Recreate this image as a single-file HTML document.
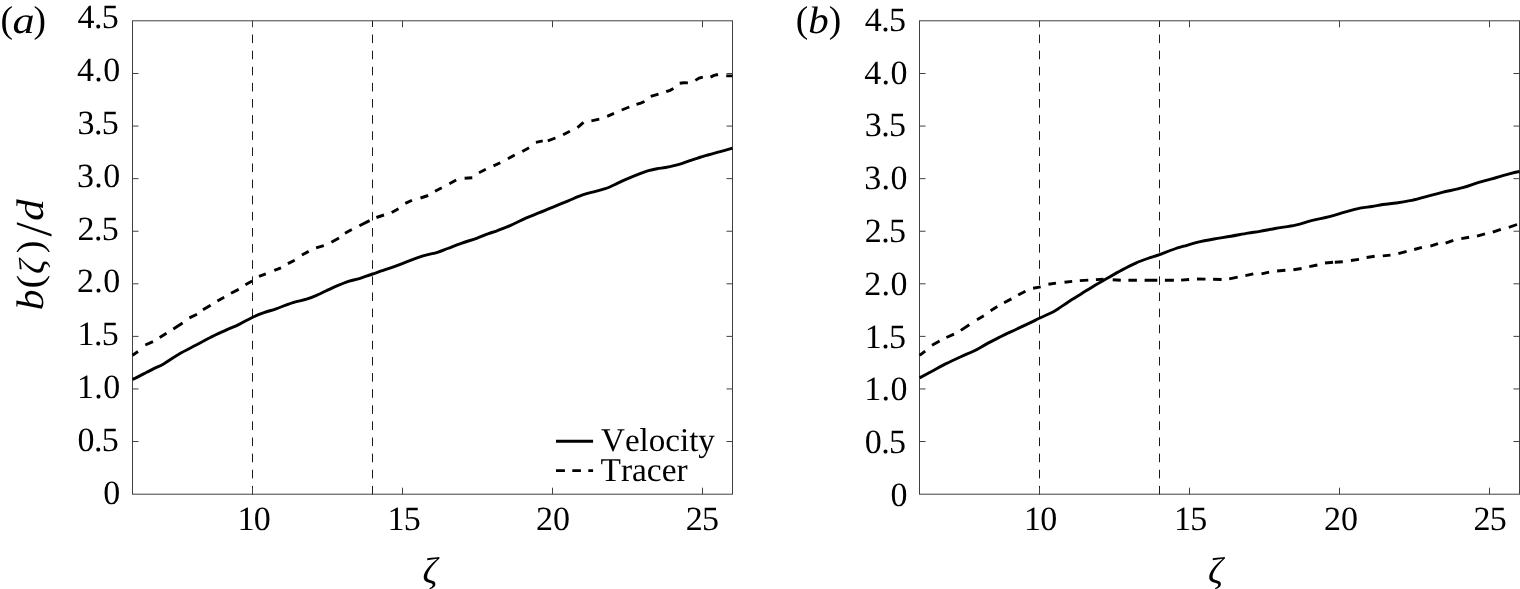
<!DOCTYPE html>
<html lang="en"><head><meta charset="utf-8"><title>Jet width: velocity and tracer</title>
<style>html,body{margin:0;padding:0;background:#fff;}body{width:1520px;height:589px;overflow:hidden;position:relative;}svg{display:block;position:absolute;left:0;top:0;}text{text-rendering:geometricPrecision;font-family:"Liberation Serif",serif;fill:#000;}.it{font-style:italic;}</style></head><body>
<svg width="1520" height="589" viewBox="0 0 1520 589">
<rect x="0" y="0" width="1520" height="589" fill="#fff"/>
<path d="M252.5 494.5 V20.80" stroke="#1a1a1a" stroke-width="1" stroke-dasharray="8.6 7.52" fill="none"/>
<path d="M372.5 494.5 V20.80" stroke="#1a1a1a" stroke-width="1" stroke-dasharray="8.6 7.52" fill="none"/>
<path d="M132.5 441.53 h6.0 M732.5 441.53 h-6.0 M132.5 388.95 h6.0 M732.5 388.95 h-6.0 M132.5 336.38 h6.0 M732.5 336.38 h-6.0 M132.5 283.80 h6.0 M732.5 283.80 h-6.0 M132.5 231.23 h6.0 M732.5 231.23 h-6.0 M132.5 178.65 h6.0 M732.5 178.65 h-6.0 M132.5 126.07 h6.0 M732.5 126.07 h-6.0 M132.5 73.50 h6.0 M732.5 73.50 h-6.0 M252.5 494.20 v-6.5 M252.5 20.80 v6.5 M402.5 494.20 v-6.5 M402.5 20.80 v6.5 M552.5 494.20 v-6.5 M552.5 20.80 v6.5 M702.5 494.20 v-6.5 M702.5 20.80 v6.5" stroke="#404040" stroke-width="1" fill="none"/>
<rect x="132.5" y="20.80" width="600.0" height="473.40" fill="none" stroke="#404040" stroke-width="1"/>
<text x="120.2" y="503.6" font-size="34" text-anchor="end">0</text>
<text x="118.2" y="450.8" font-size="34" text-anchor="end" letter-spacing="-0.6">0.5</text>
<text x="120.6" y="397.9" font-size="34" text-anchor="end" letter-spacing="0.4">1.0</text>
<text x="118.2" y="345.1" font-size="34" text-anchor="end" letter-spacing="-0.6">1.5</text>
<text x="120.6" y="292.4" font-size="34" text-anchor="end" letter-spacing="0.4">2.0</text>
<text x="118.2" y="239.5" font-size="34" text-anchor="end" letter-spacing="-0.6">2.5</text>
<text x="120.6" y="186.7" font-size="34" text-anchor="end" letter-spacing="0.4">3.0</text>
<text x="118.2" y="133.9" font-size="34" text-anchor="end" letter-spacing="-0.6">3.5</text>
<text x="120.6" y="81.2" font-size="34" text-anchor="end" letter-spacing="0.4">4.0</text>
<text x="118.2" y="28.4" font-size="34" text-anchor="end" letter-spacing="-0.6">4.5</text>
<text x="253.8" y="530" font-size="34" text-anchor="middle" letter-spacing="-0.7">10</text>
<text x="403.8" y="530" font-size="34" text-anchor="middle" letter-spacing="-0.7">15</text>
<text x="552.9" y="530" font-size="34" text-anchor="middle" letter-spacing="0">20</text>
<text x="702.1" y="530" font-size="34" text-anchor="middle" letter-spacing="-0.7">25</text>
<text x="430.1" y="583.2" font-size="37" text-anchor="middle" class="it">ζ</text>
<path d="M1039.5 494.5 V20.80" stroke="#1a1a1a" stroke-width="1" stroke-dasharray="8.6 7.52" fill="none"/>
<path d="M1159.5 494.5 V20.80" stroke="#1a1a1a" stroke-width="1" stroke-dasharray="8.6 7.52" fill="none"/>
<path d="M919.5 441.53 h6.0 M1519.5 441.53 h-6.0 M919.5 388.95 h6.0 M1519.5 388.95 h-6.0 M919.5 336.38 h6.0 M1519.5 336.38 h-6.0 M919.5 283.80 h6.0 M1519.5 283.80 h-6.0 M919.5 231.23 h6.0 M1519.5 231.23 h-6.0 M919.5 178.65 h6.0 M1519.5 178.65 h-6.0 M919.5 126.07 h6.0 M1519.5 126.07 h-6.0 M919.5 73.50 h6.0 M1519.5 73.50 h-6.0 M1039.5 494.20 v-6.5 M1039.5 20.80 v6.5 M1189.5 494.20 v-6.5 M1189.5 20.80 v6.5 M1339.5 494.20 v-6.5 M1339.5 20.80 v6.5 M1489.5 494.20 v-6.5 M1489.5 20.80 v6.5" stroke="#404040" stroke-width="1" fill="none"/>
<rect x="919.5" y="20.80" width="600.0" height="473.40" fill="none" stroke="#404040" stroke-width="1"/>
<text x="907.5" y="505.9" font-size="34" text-anchor="end">0</text>
<text x="905.5" y="453.1" font-size="34" text-anchor="end" letter-spacing="-0.6">0.5</text>
<text x="907.9" y="400.3" font-size="34" text-anchor="end" letter-spacing="0.4">1.0</text>
<text x="905.5" y="347.5" font-size="34" text-anchor="end" letter-spacing="-0.6">1.5</text>
<text x="907.9" y="294.7" font-size="34" text-anchor="end" letter-spacing="0.4">2.0</text>
<text x="905.5" y="241.9" font-size="34" text-anchor="end" letter-spacing="-0.6">2.5</text>
<text x="907.9" y="189.1" font-size="34" text-anchor="end" letter-spacing="0.4">3.0</text>
<text x="905.5" y="136.3" font-size="34" text-anchor="end" letter-spacing="-0.6">3.5</text>
<text x="907.9" y="83.5" font-size="34" text-anchor="end" letter-spacing="0.4">4.0</text>
<text x="905.5" y="30.7" font-size="34" text-anchor="end" letter-spacing="-0.6">4.5</text>
<text x="1040.3" y="530" font-size="34" text-anchor="middle" letter-spacing="-0.7">10</text>
<text x="1190.3" y="530" font-size="34" text-anchor="middle" letter-spacing="-0.7">15</text>
<text x="1341.1" y="530" font-size="34" text-anchor="middle" letter-spacing="0">20</text>
<text x="1489.8" y="530" font-size="34" text-anchor="middle" letter-spacing="-0.7">25</text>
<text x="1215.5" y="583.2" font-size="37" text-anchor="middle" class="it">ζ</text>
<text x="0.6" y="32.4" font-size="37.5">(</text>
<text transform="translate(12.4 33.3) scale(1.18 1)" font-size="37.5" class="it">a</text>
<text x="33.6" y="32.4" font-size="37.5">)</text>
<text x="795.8" y="32.4" font-size="37.5">(</text>
<text transform="translate(808.2 33.3) scale(1.07 1)" font-size="38.3" class="it">b</text>
<text x="828.8" y="32.4" font-size="37.5">)</text>
<text transform="translate(43.05 310.26) rotate(-90) scale(1.088 1)" font-size="38.4" class="it">b</text>
<text transform="translate(42.0 288.5) rotate(-90) scale(1.1 1)" font-size="36.8">(</text>
<text transform="translate(44.3 274.0) rotate(-90) scale(1.0 1)" font-size="36.1" class="it">ζ</text>
<text transform="translate(42.0 253.3) rotate(-90) scale(1.04 1)" font-size="36.8">)</text>
<text transform="translate(50.5 236.5) rotate(-90) scale(1.0 1)" font-size="51.75">/</text>
<text transform="translate(43.05 220.8) rotate(-90) scale(1.12 1)" font-size="38.4" class="it">d</text>
<path d="M132.5 379.5 C135.8 377.9 146.8 372.2 152.0 369.6 C157.2 367.0 159.5 366.3 164.0 363.7 C168.5 361.1 173.8 357.1 179.2 354.0 C184.6 350.9 191.1 347.7 196.2 345.0 C201.3 342.3 205.0 340.1 209.8 337.7 C214.6 335.3 220.2 332.8 225.0 330.6 C229.8 328.4 234.2 326.8 238.7 324.6 C243.2 322.4 248.0 319.5 252.2 317.5 C256.4 315.5 260.0 314.1 264.0 312.7 C268.0 311.2 271.2 310.5 276.0 308.8 C280.8 307.1 287.9 304.2 293.0 302.6 C298.1 301.0 302.6 300.4 306.6 299.2 C310.6 298.0 312.4 297.2 317.0 295.2 C321.6 293.2 328.6 289.5 334.0 287.1 C339.4 284.8 345.0 282.5 349.2 281.1 C353.4 279.7 355.5 279.8 359.4 278.6 C363.3 277.4 367.7 275.6 372.5 274.0 C377.3 272.4 382.8 270.6 388.3 268.7 C393.8 266.8 399.7 264.5 405.3 262.4 C410.9 260.3 416.8 257.9 422.2 256.2 C427.6 254.5 433.2 253.6 437.5 252.3 C441.8 251.0 443.7 250.0 447.7 248.5 C451.7 247.0 456.5 245.0 461.3 243.3 C466.1 241.6 472.1 239.9 476.6 238.3 C481.1 236.7 485.1 234.8 488.5 233.6 C491.9 232.3 493.3 232.2 497.0 230.8 C500.7 229.4 505.8 227.5 510.6 225.4 C515.4 223.3 521.0 220.2 525.8 218.1 C530.6 216.0 534.9 214.5 539.4 212.7 C543.9 210.9 548.2 209.1 553.0 207.1 C557.8 205.1 563.5 202.8 568.3 200.8 C573.1 198.8 577.4 196.8 581.9 195.2 C586.4 193.6 591.3 192.5 595.5 191.3 C599.7 190.1 603.9 189.2 607.3 188.0 C610.7 186.8 612.7 185.5 615.8 184.1 C618.9 182.7 622.0 181.1 626.0 179.4 C630.0 177.7 636.2 175.2 640.0 173.7 C643.8 172.2 645.7 171.4 648.5 170.6 C651.3 169.8 654.2 169.2 657.0 168.7 C659.8 168.2 662.7 168.0 665.5 167.5 C668.3 167.0 671.2 166.4 674.0 165.7 C676.8 165.0 679.6 164.2 682.4 163.3 C685.2 162.4 688.1 161.3 690.9 160.3 C693.7 159.3 696.6 158.4 699.4 157.5 C702.2 156.6 705.1 155.8 707.9 155.0 C710.7 154.2 713.6 153.4 716.4 152.6 C719.2 151.8 722.2 151.1 724.9 150.3 C727.6 149.6 731.2 148.5 732.5 148.1" stroke="#000" stroke-width="2.9" fill="none" stroke-linejoin="round"/>
<path d="M132.5 355.2 L138.0 351.5 M145.3 345.0 L153.0 341.7 M159.7 337.4 L166.5 333.2 M173.3 329.0 L182.6 323.0 M189.4 317.9 L197.0 314.2 M203.0 309.8 L210.6 305.2 M217.4 300.9 L224.2 297.2 M231.0 293.3 L238.7 289.4 M245.4 284.8 L252.2 280.9 M259.0 276.3 L265.8 273.8 M274.3 270.4 L281.0 267.8 M287.9 263.6 L294.7 260.2 M301.9 255.0 L308.7 251.4 M316.1 247.8 L323.8 245.6 M331.4 242.2 L339.0 237.9 M345.0 233.2 L351.8 229.4 M359.4 225.7 L369.6 220.6 M376.4 217.5 L384.0 215.0 M391.7 212.4 L398.5 208.7 M405.3 203.4 L412.0 200.2 M420.5 198.0 L428.2 195.5 M435.0 191.2 L441.8 187.8 M449.4 183.8 L456.2 180.1 M464.6 178.2 L472.3 177.7 M479.0 172.7 L485.8 169.3 M493.5 165.9 L500.3 162.7 M507.9 158.8 L514.7 154.9 M522.3 151.5 L529.1 147.7 M535.9 142.3 L542.7 140.9 M547.8 140.9 L555.4 138.0 M563.1 134.7 L569.9 131.3 M577.5 127.7 L583.5 122.3 M591.4 120.9 L599.3 119.2 M607.2 116.3 L614.0 113.4 M621.7 110.0 L629.3 107.0 M636.5 104.4 L640.7 103.1 L644.5 101.5 M650.7 96.4 L658.5 94.1 M666.2 91.7 L670.1 90.3 L673.4 88.5 M679.7 83.3 L683.7 82.7 L687.9 82.9 M695.4 80.4 L699.1 78.0 L702.8 77.1 M710.5 77.1 L714.0 75.4 L718.0 74.5 M726.2 75.9 L732.5 75.9" stroke="#000" stroke-width="2.9" fill="none"/>
<path d="M919.6 377.9 C921.7 376.8 927.7 373.5 932.0 371.2 C936.3 368.9 940.8 366.3 945.6 363.9 C950.4 361.5 956.0 358.9 960.8 356.7 C965.6 354.5 969.9 353.1 974.4 350.8 C978.9 348.5 983.5 345.5 988.0 343.1 C992.5 340.7 996.8 338.6 1001.6 336.2 C1006.4 333.8 1012.1 331.3 1016.9 329.0 C1021.7 326.7 1026.7 324.4 1030.5 322.6 C1034.3 320.8 1035.8 319.9 1039.8 318.0 C1043.8 316.1 1049.6 313.8 1054.3 311.2 C1059.0 308.6 1063.4 305.1 1067.9 302.2 C1072.4 299.3 1077.0 296.5 1081.5 293.7 C1086.0 290.9 1090.6 287.9 1095.1 285.2 C1099.6 282.5 1104.2 280.1 1108.7 277.5 C1113.2 274.9 1117.7 272.3 1122.2 269.9 C1126.7 267.5 1131.5 265.0 1135.8 263.1 C1140.0 261.2 1143.7 259.9 1147.7 258.5 C1151.7 257.1 1155.3 256.1 1159.6 254.6 C1163.8 253.1 1168.7 251.1 1173.2 249.5 C1177.7 247.9 1182.8 246.5 1186.8 245.3 C1190.8 244.1 1192.5 243.5 1197.0 242.4 C1201.5 241.3 1208.3 240.0 1214.0 239.0 C1219.7 238.0 1225.2 237.2 1230.9 236.2 C1236.6 235.2 1243.1 233.9 1247.9 233.1 C1252.7 232.3 1255.3 232.2 1259.8 231.4 C1264.3 230.6 1269.1 229.6 1275.1 228.5 C1281.0 227.4 1289.3 226.4 1295.5 225.1 C1301.7 223.8 1306.8 221.8 1312.4 220.4 C1318.1 219.0 1324.0 218.0 1329.4 216.6 C1334.8 215.2 1339.6 213.6 1344.7 212.2 C1349.8 210.8 1355.5 209.0 1360.0 208.1 C1364.5 207.2 1368.1 207.1 1371.9 206.5 C1375.7 205.9 1378.7 205.1 1382.8 204.5 C1386.9 203.9 1391.9 203.6 1396.4 203.0 C1400.9 202.4 1405.2 201.7 1410.0 200.7 C1414.8 199.7 1419.9 198.2 1425.3 196.8 C1430.7 195.4 1436.0 193.8 1442.2 192.3 C1448.4 190.8 1456.4 189.4 1462.6 187.7 C1468.8 186.0 1473.9 183.8 1479.6 182.1 C1485.3 180.4 1491.5 178.9 1496.6 177.5 C1501.7 176.1 1506.4 174.6 1510.2 173.6 C1514.0 172.6 1518.0 171.8 1519.5 171.5" stroke="#000" stroke-width="2.9" fill="none" stroke-linejoin="round"/>
<path d="M919.6 355.4 L925.2 351.1 M932.0 345.2 L939.6 340.9 M946.4 337.5 L954.0 334.1 M960.8 330.4 L969.3 324.8 M977.0 319.7 L983.8 315.8 M990.6 310.7 L997.3 306.5 M1004.1 302.8 L1011.4 298.9 M1018.2 295.0 L1025.4 291.2 M1033.1 288.2 L1040.7 286.9 M1048.4 284.3 L1056.0 283.1 M1064.5 282.3 L1072.2 281.4 M1079.8 280.6 L1088.3 280.1 M1095.9 279.6 L1103.6 279.2 M1112.7 279.8 L1120.8 280.3 M1128.4 280.3 L1136.9 280.3 M1144.6 280.3 L1157.3 280.3 M1164.9 280.3 L1173.9 280.3 M1181.1 280.1 L1189.1 279.5 M1197.0 279.0 L1205.5 279.1 M1213.1 279.3 L1221.6 279.5 M1229.2 278.9 L1237.7 277.2 M1245.4 275.6 L1253.3 273.9 M1261.5 273.9 L1269.1 272.2 M1277.1 271.0 L1285.4 270.3 M1293.4 269.8 L1301.6 268.5 M1309.3 266.6 L1317.4 265.0 M1325.0 263.0 L1333.1 262.2 M1334.8 262.2 L1342.8 261.8 M1350.9 260.5 L1359.0 259.4 M1366.6 257.5 L1374.7 256.2 M1382.8 255.9 L1390.5 255.1 M1398.4 253.7 L1406.6 251.3 M1414.2 249.5 L1421.9 247.4 M1430.4 246.2 L1438.0 243.7 M1445.6 243.2 L1453.3 240.3 M1461.3 238.6 L1469.1 237.2 M1477.0 236.1 L1485.0 233.9 M1492.8 232.2 L1500.8 229.3 M1508.8 227.4 L1517.0 224.5" stroke="#000" stroke-width="2.9" fill="none"/>
<path d="M556 441.3 H593.1" stroke="#000" stroke-width="2.9" fill="none"/>
<path d="M556 470.6 H564.9 M572.3 470.6 H580.9 M588.3 470.6 H593.1" stroke="#000" stroke-width="2.9" fill="none"/>
<text x="601" y="450.8" font-size="33.1" style="font-kerning:none">Velocity</text>
<text x="600.5" y="481.3" font-size="33.4" style="font-kerning:none">Tracer</text>
</svg></body></html>
